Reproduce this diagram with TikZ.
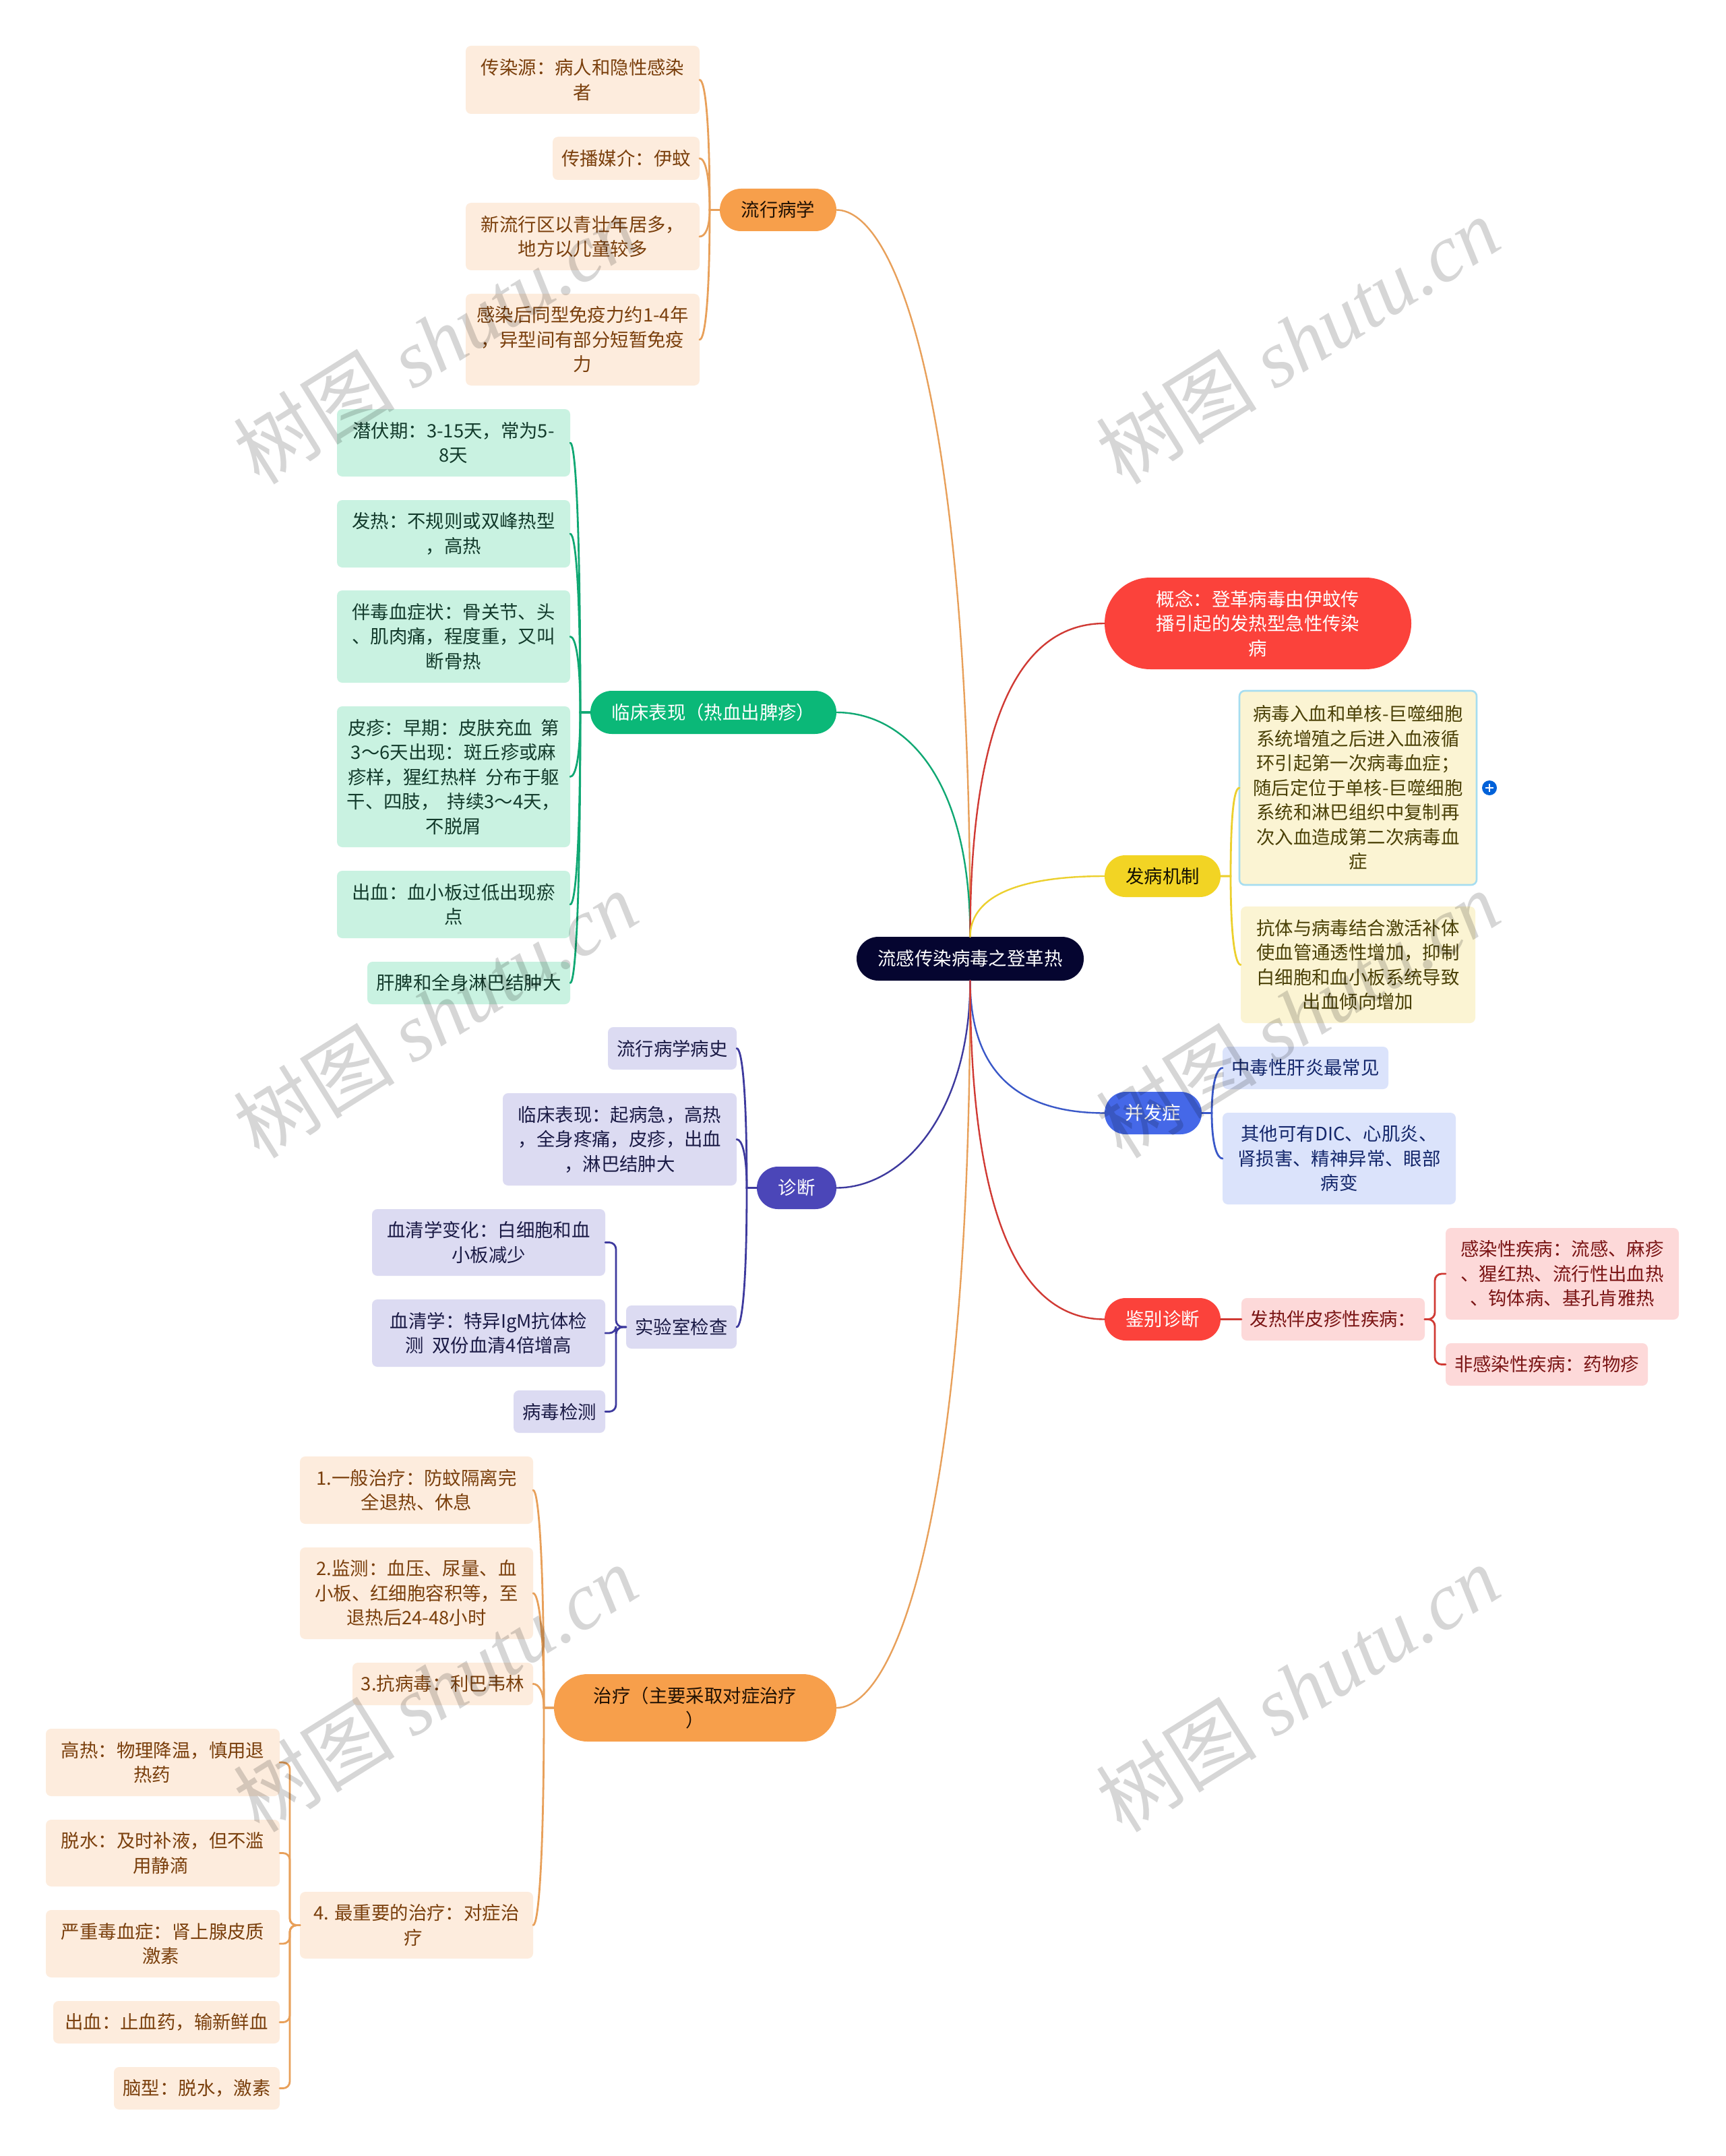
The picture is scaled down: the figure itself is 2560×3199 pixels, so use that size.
\documentclass[tikz,border=0pt]{standalone}
\usepackage{fontspec}
\setmainfont{Noto Sans CJK SC}
\newfontfamily\wmlatin{Liberation Serif}
\usetikzlibrary{calc}
\definecolor{oLine}{HTML}{E8A05A}\definecolor{oBox}{HTML}{FDECDD}\definecolor{oText}{HTML}{7A3F0C}\definecolor{oFill}{HTML}{F79F4B}
\definecolor{gLine}{HTML}{10A873}\definecolor{gBox}{HTML}{C9F2E1}\definecolor{gText}{HTML}{123A2B}\definecolor{gFill}{HTML}{0BB878}
\definecolor{pLine}{HTML}{3E3A9E}\definecolor{pBox}{HTML}{DCDBF2}\definecolor{pText}{HTML}{1A1A45}\definecolor{pFill}{HTML}{4B46B8}
\definecolor{bLine}{HTML}{3A58C8}\definecolor{bBox}{HTML}{DBE3FB}\definecolor{bText}{HTML}{14276B}\definecolor{bFill}{HTML}{4568E8}
\definecolor{rLine}{HTML}{D03A34}\definecolor{rBox}{HTML}{FDD9D9}\definecolor{rText}{HTML}{7A1414}\definecolor{rFill}{HTML}{FB423B}
\definecolor{yLine}{HTML}{ECD02E}\definecolor{yBox}{HTML}{FBF4D3}\definecolor{yText}{HTML}{4A4006}\definecolor{yFill}{HTML}{F2D424}
\definecolor{rootFill}{HTML}{050530}
\definecolor{skyLine}{HTML}{A6DDF0}
\tikzset{
  x=0.5pt,y=-0.5pt,
  shape=rectangle,
  basebox/.style={align=center,inner sep=0pt,outer sep=0pt,font=\fontsize{13.7}{18.25}\selectfont},
  obox/.style={basebox,fill=oBox,text=oText,rounded corners=4pt},
  gbox/.style={basebox,fill=gBox,text=gText,rounded corners=4pt},
  pbox/.style={basebox,fill=pBox,text=pText,rounded corners=4pt},
  bbox/.style={basebox,fill=bBox,text=bText,rounded corners=4pt},
  rbox/.style={basebox,fill=rBox,text=rText,rounded corners=4pt},
  ybox/.style={basebox,fill=yBox,text=yText,rounded corners=4pt},
  ysel/.style={ybox,draw=skyLine,line width=1.3pt},
  pill/.style={basebox},
  wire/.style={line width=1.4pt,line cap=round},
  trunk/.style={line width=1.2pt,line cap=round},
  wm/.style={text=black,text opacity=0.16,rotate=32,inner sep=0pt,font=\fontsize{60}{60}\selectfont}
}
% #1 name, #2 style, #3 x0, #4 y0, #5 x1, #6 y1, #7 text
\newcommand\bx[7]{\node[#2,minimum width={(#5-#3)*0.5pt},minimum height={(#6-#4)*0.5pt}] (#1) at ({(#3+#5)/2},{(#4+#6)/2}) {#7};}
\newcommand\pl[8]{\node[pill,fill=#2,text=#3,rounded corners={(#7-#5)*0.25pt-0.1pt},minimum width={(#6-#4)*0.5pt},minimum height={(#7-#5)*0.5pt}] (#1) at ({(#4+#6)/2},{(#5+#7)/2}) {#8};}
% child, parent, colour : curved sibling lines, to the left and to the right of the parent
\newcommand\kl[3]{\draw[wire,#3] let \p1=(#1.east),\p2=(#2.west) in (\p1) .. controls (\x1+4pt,\y1) and (\x2-7.5pt,{\y1+0.3*(\y2-\y1)}) .. (\x2-7.5pt,\y2) -- (\p2);}
\newcommand\kr[3]{\draw[wire,#3] let \p1=(#1.west),\p2=(#2.east) in (\p1) .. controls (\x1-4pt,\y1) and (\x2+7.5pt,{\y1+0.3*(\y2-\y1)}) .. (\x2+7.5pt,\y2) -- (\p2);}
% child, parent, colour : rounded-corner sibling lines
\newcommand\rl[3]{\draw[wire,#3,rounded corners=5pt] let \p1=(#1.east),\p2=(#2.west) in (\p1) -- (\x2-7.5pt,\y1) -- (\x2-7.5pt,\y2) -- (\p2);}
\newcommand\rr[3]{\draw[wire,#3,rounded corners=5pt] let \p1=(#1.west),\p2=(#2.east) in (\p1) -- (\x2+7.5pt,\y1) -- (\x2+7.5pt,\y2) -- (\p2);}
\begin{document}
\begin{tikzpicture}
\useasboundingbox (0,0) rectangle (2560,3199);
\fill[white] (0,0) rectangle (2560,3199);

% root
\pl{root}{rootFill}{white}{1271}{1390}{1608}{1455}{流感传染病毒之登革热}

% epidemiology
\pl{epi}{oFill}{black!75!oText}{1068}{280}{1241}{343}{流行病学}
\bx{e1}{obox}{691}{68}{1038}{169}{传染源：病人和隐性感染\\者}
\bx{e2}{obox}{820}{203}{1038}{267}{传播媒介：伊蚊}
\bx{e3}{obox}{691}{301}{1038}{401}{新流行区以青壮年居多，\\地方以儿童较多}
\bx{e4}{obox}{691}{436}{1038}{572}{感染后同型免疫力约1-4年\\，异型间有部分短暂免疫\\力}

% clinical
\pl{cli}{gFill}{white}{876}{1025}{1241}{1089}{临床表现（热血出脾疹）}
\bx{c1}{gbox}{500}{607}{846}{707}{潜伏期：3-15天，常为5-\\8天}
\bx{c2}{gbox}{500}{742}{846}{842}{发热：不规则或双峰热型\\，高热}
\bx{c3}{gbox}{500}{876}{846}{1013}{伴毒血症状：骨关节、头\\、肌肉痛，程度重，又叫\\断骨热}
\bx{c4}{gbox}{500}{1048}{846}{1257}{皮疹：早期：皮肤充血\ \ 第\\3～6天出现：斑丘疹或麻\\疹样，猩红热样\ \ 分布于躯\\干、四肢，\ \ 持续3～4天，\\不脱屑}
\bx{c5}{gbox}{500}{1292}{846}{1392}{出血：血小板过低出现瘀\\点}
\bx{c6}{gbox}{545}{1427}{846}{1490}{肝脾和全身淋巴结肿大}

% diagnosis
\pl{dia}{pFill}{white}{1123}{1731}{1241}{1794}{诊断}
\bx{d1}{pbox}{902}{1524}{1093}{1587}{流行病学病史}
\bx{d2}{pbox}{746}{1622}{1093}{1759}{临床表现：起病急，高热\\，全身疼痛，皮疹，出血\\，淋巴结肿大}
\bx{d3}{pbox}{929}{1937}{1093}{2001}{实验室检查}
\bx{d31}{pbox}{552}{1794}{898}{1893}{血清学变化：白细胞和血\\小板减少}
\bx{d32}{pbox}{552}{1928}{898}{2028}{血清学：特异IgM抗体检\\测\ \ 双份血清4倍增高}
\bx{d33}{pbox}{762}{2063}{898}{2126}{病毒检测}

% treatment
\pl{tre}{oFill}{black!75!oText}{822}{2484}{1241}{2584}{治疗（主要采取对症治疗\\）}
\bx{t1}{obox}{445}{2161}{791}{2261}{1.一般治疗：防蚊隔离完\\全退热、休息}
\bx{t2}{obox}{445}{2296}{791}{2432}{2.监测：血压、尿量、血\\小板、红细胞容积等，至\\退热后24-48小时}
\bx{t3}{obox}{523}{2467}{791}{2530}{3.抗病毒：利巴韦林}
\bx{t4}{obox}{445}{2807}{791}{2906}{4. 最重要的治疗：对症治\\疗\hspace*{5pt}}
\bx{t41}{obox}{68}{2565}{415}{2665}{高热：物理降温，慎用退\\热药\hspace*{16pt}}
\bx{t42}{obox}{68}{2700}{415}{2799}{脱水：及时补液，但不滥\\用静滴\hspace*{3pt}}
\bx{t43}{obox}{68}{2834}{415}{2934}{严重毒血症：肾上腺皮质\\激素\hspace*{3pt}}
\bx{t44}{obox}{79}{2969}{415}{3032}{出血：止血药，输新鲜血}
\bx{t45}{obox}{169}{3067}{415}{3130}{脑型：脱水，激素}

% right side
\pl{con}{rFill}{white}{1639}{857}{2094}{993}{概念：登革病毒由伊蚊传\\播引起的发热型急性传染\\病}
\pl{pat}{yFill}{black!75!yText}{1639}{1269}{1811}{1331}{发病机制}
\bx{p1}{ysel}{1839}{1025}{2191}{1313}{病毒入血和单核-巨噬细胞\\系统增殖之后进入血液循\\环引起第一次病毒血症；\\随后定位于单核-巨噬细胞\\系统和淋巴组织中复制再\\次入血造成第二次病毒血\\症}
\bx{p2}{ybox}{1841}{1345}{2189}{1518}{抗体与病毒结合激活补体\\使血管通透性增加，抑制\\白细胞和血小板系统导致\\出血倾向增加}
\node[circle,fill=blue!55!cyan!85!black,minimum size=11pt,inner sep=0pt] (plus) at (2210,1169) {};
\draw[white,line width=0.9pt] ($(plus.center)+(-6,0)$) -- ($(plus.center)+(6,0)$);
\draw[white,line width=0.9pt] ($(plus.center)+(0,-6)$) -- ($(plus.center)+(0,6)$);

\pl{com}{bFill}{white}{1639}{1620}{1783}{1683}{并发症}
\bx{o1}{bbox}{1814}{1553}{2060}{1616}{中毒性肝炎最常见}
\bx{o2}{bbox}{1814}{1651}{2160}{1787}{其他可有DIC、心肌炎、\\肾损害、精神异常、眼部\\病变}

\pl{dif}{rFill}{white}{1639}{1926}{1811}{1989}{鉴别诊断}
\bx{f1}{rbox}{1842}{1926}{2114}{1989}{发热伴皮疹性疾病：}
\bx{f11}{rbox}{2145}{1822}{2491}{1958}{感染性疾病：流感、麻疹\\、猩红热、流行性出血热\\、钩体病、基孔肯雅热}
\bx{f12}{rbox}{2145}{1993}{2445}{2056}{非感染性疾病：药物疹}

% trunk curves from the root
\draw[trunk,oLine] (epi.east) .. controls +(89,0) and ($(root.north)+(0,-790)$) .. (root.north);
\draw[trunk,gLine] (cli.east) .. controls +(99,0) and ($(root.north)+(0,-240)$) .. (root.north);
\draw[trunk,pLine] (dia.east) .. controls +(99,0) and ($(root.south)+(0,195)$) .. (root.south);
\draw[trunk,oLine] (tre.east) .. controls +(89,0) and ($(root.south)+(0,790)$) .. (root.south);
\draw[trunk,rLine] (con.west) .. controls +(-139,0) and ($(root.north)+(0,-290)$) .. (root.north);
\draw[trunk,yLine] (pat.west) .. controls +(-139,0) and ($(root.north)+(0,-55)$) .. (root.north);
\draw[trunk,bLine] (com.west) .. controls +(-139,0) and ($(root.south)+(0,125)$) .. (root.south);
\draw[trunk,rLine] (dif.west) .. controls +(-139,0) and ($(root.south)+(0,315)$) .. (root.south);

% sibling lines
\kl{e1}{epi}{oLine}\kl{e2}{epi}{oLine}\kl{e3}{epi}{oLine}\kl{e4}{epi}{oLine}
\kl{c1}{cli}{gLine}\kl{c2}{cli}{gLine}\kl{c3}{cli}{gLine}\kl{c4}{cli}{gLine}\kl{c5}{cli}{gLine}\kl{c6}{cli}{gLine}
\kl{d1}{dia}{pLine}\kl{d2}{dia}{pLine}\kl{d3}{dia}{pLine}
\rl{d31}{d3}{pLine}\rl{d32}{d3}{pLine}\rl{d33}{d3}{pLine}
\kl{t1}{tre}{oLine}\kl{t2}{tre}{oLine}\kl{t3}{tre}{oLine}\kl{t4}{tre}{oLine}
\rl{t41}{t4}{oLine}\rl{t42}{t4}{oLine}\rl{t43}{t4}{oLine}\rl{t44}{t4}{oLine}\rl{t45}{t4}{oLine}
\kr{p1}{pat}{yLine}\kr{p2}{pat}{yLine}
\kr{o1}{com}{bLine}\kr{o2}{com}{bLine}
\draw[wire,rLine] (dif.east) -- (f1.west);
\rr{f11}{f1}{rLine}\rr{f12}{f1}{rLine}

% watermarks
\node[wm] (wm1) at (646,505) {树图 {\wmlatin\itshape shutu.cn}};
\node[wm] (wm2) at (1925,505) {树图 {\wmlatin\itshape shutu.cn}};
\node[wm] (wm3) at (646,1505) {树图 {\wmlatin\itshape shutu.cn}};
\node[wm] (wm4) at (1925,1505) {树图 {\wmlatin\itshape shutu.cn}};
\node[wm] (wm5) at (646,2505) {树图 {\wmlatin\itshape shutu.cn}};
\node[wm] (wm6) at (1925,2505) {树图 {\wmlatin\itshape shutu.cn}};
\end{tikzpicture}
\end{document}
